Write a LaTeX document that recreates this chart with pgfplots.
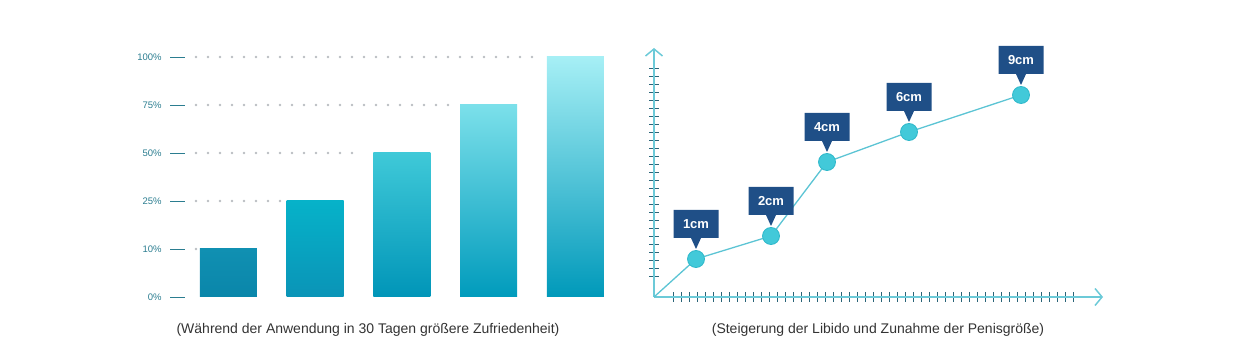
\documentclass[border=0pt]{standalone}
\usepackage{fontspec}
\setmainfont{Liberation Sans}
\usepackage{pgfplots}
\pgfplotsset{compat=1.18}
\usetikzlibrary{arrows.meta,shapes.callouts}
\definecolor{lbl}{HTML}{2B7D90}
\definecolor{dotc}{HTML}{B9BDC1}
\definecolor{axc}{HTML}{6CCAD8}
\definecolor{tickc}{HTML}{2A6478}
\definecolor{linec}{HTML}{5CC4D4}
\definecolor{mk}{HTML}{42C9D9}
\definecolor{mkd}{HTML}{2FB8CA}
\definecolor{boxc}{HTML}{1F4F87}
\definecolor{capc}{HTML}{333333}
\begin{document}
\begin{tikzpicture}[x=1pt,y=1pt]
\useasboundingbox (0,0) rectangle (1255,361);
\begin{axis}[
  at={(185.1pt,64pt)}, anchor=south west, scale only axis,
  width=433.75pt, height=240pt,
  xmin=-0.5, xmax=4.5, ymin=0, ymax=5,
  clip=false,
  axis x line=none,
  axis y line*=left,
  y axis line style={draw=none},
  ytick={0,1,2,3,4,5},
  yticklabels={0\%,10\%,25\%,50\%,75\%,100\%},
  tick align=outside, major tick length=15pt,
  ytick style={draw=lbl, line width=0.9pt},
  yticklabel style={font=\fontsize{9.5}{10}\selectfont, text=lbl, xshift=-5pt},
]
% dotted guide lines
\addplot[draw=dotc, line width=2.8pt, line cap=round, dash pattern=on 0pt off 12pt] coordinates {(-0.375,5) (3.61,5)};
\addplot[draw=dotc, line width=2.8pt, line cap=round, dash pattern=on 0pt off 12pt] coordinates {(-0.375,4) (2.65,4)};
\addplot[draw=dotc, line width=2.8pt, line cap=round, dash pattern=on 0pt off 12pt] coordinates {(-0.375,3) (1.56,3)};
\addplot[draw=dotc, line width=2.8pt, line cap=round, dash pattern=on 0pt off 12pt] coordinates {(-0.375,2) (0.61,2)};
\addplot[draw=dotc, line width=2.8pt, line cap=round, dash pattern=on 0pt off 12pt] coordinates {(-0.375,1) (-0.37,1)};
% bars
\addplot[ybar, bar width=57pt, bar shift=0pt, draw=none, top color={rgb,255:red,16;green,144;blue,178}, middle color={rgb,255:red,5;green,128;blue,166}, bottom color={rgb,255:red,10;green,134;blue,170}] coordinates {(0,1)};
\addplot[ybar, bar width=57pt, bar shift=0pt, draw=none, top color={rgb,255:red,6;green,178;blue,201}, middle color={rgb,255:red,0;green,144;blue,181}, bottom color={rgb,255:red,10;green,148;blue,183}] coordinates {(1,2)};
\addplot[ybar, bar width=57pt, bar shift=0pt, draw=none, top color={rgb,255:red,63;green,201;blue,216}, middle color={rgb,255:red,0;green,176;blue,200}, bottom color={rgb,255:red,0;green,149;blue,184}] coordinates {(2,3)};
\addplot[ybar, bar width=57pt, bar shift=0pt, draw=none, top color={rgb,255:red,123;green,224;blue,234}, middle color={rgb,255:red,0;green,188;blue,207}, bottom color={rgb,255:red,0;green,155;blue,188}] coordinates {(3,4)};
\addplot[ybar, bar width=57pt, bar shift=0pt, draw=none, top color={rgb,255:red,166;green,239;blue,245}, middle color={rgb,255:red,0;green,189;blue,208}, bottom color={rgb,255:red,0;green,153;blue,186}] coordinates {(4,5)};
\end{axis}

\begin{axis}[
  at={(654pt,64pt)}, anchor=south west, scale only axis,
  width=449pt, height=249pt,
  xmin=0, xmax=449, ymin=0, ymax=249,
  clip=false,
  axis lines=left,
  axis line style={draw=axc, line width=1.5pt, -{Straight Barb[length=7pt,width=17pt,line width=1.5pt]}},
  xtick={19,27,...,419},
  ytick={20,28,...,228},
  xticklabels={}, yticklabels={},
  tick align=center, major tick length=10pt,
  tick style={draw=tickc, line width=1pt},
]
\addplot[draw=linec, line width=1.3pt, mark=none] coordinates {(0,0) (42,38) (117,61) (173,135) (255,165) (367,202)};
\addplot[draw=none, mark=*, mark size=8.5pt, mark options={fill=mk, draw=mkd, line width=0.8pt},
  nodes near coords, point meta=explicit symbolic,
  every node near coord/.style={rectangle callout, fill=boxc, text=white,
    font=\bfseries\fontsize{13}{14}\selectfont, minimum width=45pt, minimum height=28pt,
    inner sep=0pt, callout relative pointer={(0pt,-11pt)}, callout pointer width=10pt,
    anchor=center, yshift=35pt}]
  coordinates {(42,38)[1cm] (117,61)[2cm] (173,135)[4cm] (255,165)[6cm] (367,202)[9cm]};
\end{axis}

\node[font=\fontsize{14}{16}\selectfont, text=capc] at (368,31) {(Während der Anwendung in 30 Tagen größere Zufriedenheit)};
\node[font=\fontsize{14}{16}\selectfont, text=capc] at (878,31) {(Steigerung der Libido und Zunahme der Penisgröße)};
\end{tikzpicture}
\end{document}
